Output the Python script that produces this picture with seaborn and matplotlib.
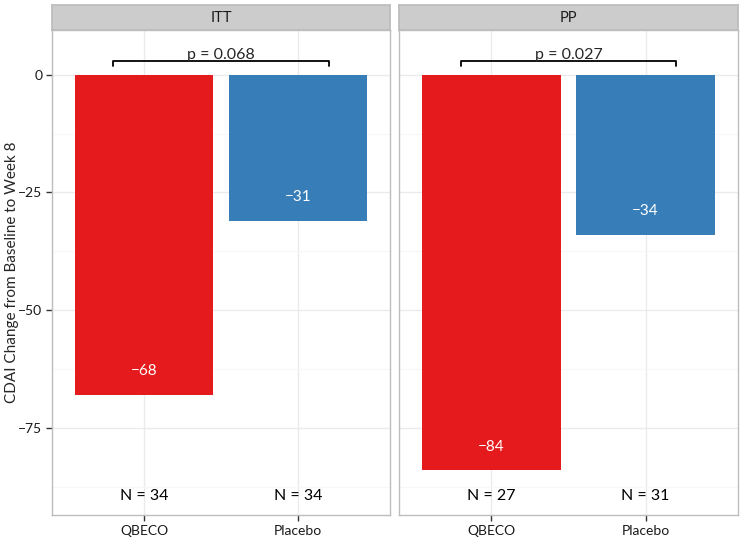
import seaborn as sns
import matplotlib.pyplot as plt
import pandas as pd

# data
facets = ['ITT', 'PP']
groups = ['QBECO', 'Placebo']
itt_change = [-68, -31]
pp_change = [-84, -34]
itt_n = [34, 34]
pp_n = [27, 31]
p_values = ['p = 0.068', 'p = 0.027']
colors = ['#E41A1C', '#377EB8']

sns.set_theme(style='white')
plt.rcParams['font.family'] = ['Lato', 'DejaVu Sans']

fig = plt.figure(figsize=(7.43, 5.37), dpi=100)
W, H = 743, 537
panels = [(52, 390), (399, 738)]
top, bottom = 30, 515
strip_top = 5

changes = [itt_change, pp_change]
ns = [itt_n, pp_n]

for i, facet in enumerate(facets):
    x0, x1 = panels[i]
    ax = fig.add_axes([x0 / W, 1 - bottom / H, (x1 - x0) / W, (bottom - top) / H])
    df = pd.DataFrame({'group': groups, 'change': changes[i]})
    sns.barplot(data=df, x='group', y='change', hue='group', palette=colors,
                width=0.9, ax=ax, legend=False, linewidth=0, saturation=1, zorder=3)
    ax.set_xlim(-0.6, 1.6)
    ax.set_ylim(-93.5, 9.5)
    ax.set_yticks([0, -25, -50, -75])
    ax.set_yticks([-12.5, -37.5, -62.5, -87.5], minor=True)
    ax.grid(True, which='major', color='#EBEBEB', linewidth=1, zorder=0)
    ax.grid(True, which='minor', axis='y', color='#F7F7F7', linewidth=0.8, zorder=0)
    ax.set_axisbelow(True)
    for s in ax.spines.values():
        s.set_color('#BDBDBD')
        s.set_linewidth(1)
    ax.tick_params(axis='both', which='major', length=4, width=1, color='#333333',
                   labelsize=10, labelcolor='#1A1A1A', bottom=True, left=(i == 0), pad=3)
    ax.tick_params(axis='both', which='minor', length=0)
    ax.set_xlabel('')
    if i == 0:
        ax.set_ylabel('CDAI Change from Baseline to Week 8', fontsize=11)
        ax.yaxis.set_label_coords(-0.098, 0.5)
        ax.set_yticklabels(['0', '\u221225', '\u221250', '\u221275'])
    else:
        ax.set_ylabel('')
        ax.set_yticklabels([])

    for j, v in enumerate(changes[i]):
        ax.text(j, v + 5, '\u2212' + str(abs(v)), color='white', ha='center',
                va='center', fontsize=11, zorder=4)
        ax.text(j, -89.5, 'N = ' + str(ns[i][j]), color='black', ha='center',
                va='center', fontsize=11.5, zorder=4)

    # significance bracket
    ax.plot([-0.2, -0.2, 1.2, 1.2], [1.8, 3, 3, 1.8], color='black', linewidth=1.3, zorder=4)
    ax.text(0.5, 3.4, p_values[i], ha='center', va='baseline', fontsize=11.5, zorder=4)

    # facet strip
    sax = fig.add_axes([x0 / W, 1 - top / H, (x1 - x0) / W, (top - strip_top) / H])
    sax.set_facecolor('#CCCCCC')
    sax.set_xticks([])
    sax.set_yticks([])
    for s in sax.spines.values():
        s.set_color('#BDBDBD')
    sax.text(0.5, 0.5, facet, ha='center', va='center', fontsize=10.5,
             color='#1A1A1A', transform=sax.transAxes)

fig.savefig('out.png', dpi=100)
